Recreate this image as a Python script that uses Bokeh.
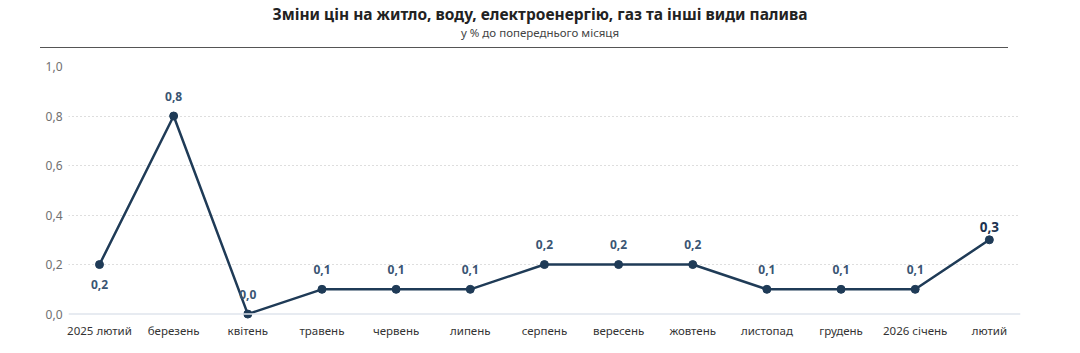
from bokeh.plotting import figure
from bokeh.models import (Range1d, FixedTicker, CustomJSTickFormatter, Span,
                          ColumnDataSource, Div)
from bokeh.layouts import column
from bokeh.core.properties import value
from bokeh.embed import file_html
from bokeh.resources import INLINE

months = ["2025 лютий", "березень", "квітень", "травень", "червень", "липень",
          "серпень", "вересень", "жовтень", "листопад", "грудень", "2026 січень", "лютий"]
values = [0.2, 0.8, 0.0, 0.1, 0.1, 0.1, 0.2, 0.2, 0.2, 0.1, 0.1, 0.1, 0.3]
y_ticks = [0.0, 0.2, 0.4, 0.6, 0.8, 1.0]
title_text = "Зміни цін на житло, воду, електроенергію, газ та інші види палива"
subtitle_text = "у % до попереднього місяця"

FONT = "Noto Sans"
LINE = "#1f3b57"
HEAD_H = 52

xs = list(range(len(months)))
labels = [f"{v:.1f}".replace(".", ",") for v in values]

head = Div(width=1080, height=HEAD_H, margin=0, text=f"""
<div style="position:relative;width:1080px;height:{HEAD_H}px;font-family:'{FONT}';">
  <div style="position:absolute;left:0;top:3px;width:1080px;text-align:center;
       font-size:15.5px;font-weight:bold;color:#222;line-height:22px;white-space:nowrap;">{title_text}</div>
  <div style="position:absolute;left:0;top:25px;width:1080px;text-align:center;
       font-size:11.5px;color:#444;line-height:16px;white-space:nowrap;">{subtitle_text}</div>
  <div style="position:absolute;left:40px;top:47px;width:968px;height:0;
       border-top:1.4px solid #555;"></div>
</div>""")

p = figure(width=1080, height=353 - HEAD_H, output_backend="svg", toolbar_location=None,
           x_range=Range1d(-0.418, 12.42), y_range=Range1d(-0.03, 1.0),
           min_border_left=68, min_border_right=60, min_border_top=66 - HEAD_H,
           min_border_bottom=32, margin=0)
p.outline_line_color = None
p.background_fill_color = "white"
p.border_fill_color = "white"

# axes
p.xaxis.ticker = FixedTicker(ticks=xs)
p.xaxis.major_label_overrides = {i: m for i, m in enumerate(months)}
p.xaxis.axis_line_color = None
p.xaxis.major_tick_line_color = None
p.xaxis.minor_tick_line_color = None
p.xaxis.major_tick_out = 0
p.xaxis.major_tick_in = 0
p.xaxis.major_label_standoff = 1
p.xaxis.major_label_text_font = FONT
p.xaxis.major_label_text_font_size = "11.5px"
p.xaxis.major_label_text_color = "#333333"

p.yaxis.ticker = FixedTicker(ticks=y_ticks)
p.yaxis.formatter = CustomJSTickFormatter(code="return tick.toFixed(1).replace('.', ',');")
p.yaxis.axis_line_color = None
p.yaxis.major_tick_line_color = None
p.yaxis.minor_tick_line_color = None
p.yaxis.major_tick_out = 0
p.yaxis.major_tick_in = 0
p.yaxis.major_label_standoff = 6
p.yaxis.major_label_text_font = FONT
p.yaxis.major_label_text_font_size = "12px"
p.yaxis.major_label_text_color = "#707070"

p.xgrid.grid_line_color = None
p.ygrid.ticker = FixedTicker(ticks=y_ticks[1:])
p.ygrid.grid_line_color = "#bdbdbd"
p.ygrid.grid_line_dash = "1 3"
p.ygrid.grid_line_width = 1

p.add_layout(Span(location=0, dimension="width", line_color="#dfe5ec", line_width=1.5))

src = ColumnDataSource(dict(x=xs, y=values))
p.line("x", "y", source=src, line_color=LINE, line_width=2.5)
p.scatter("x", "y", source=src, size=8, fill_color=LINE, line_color=LINE)

n = len(values)
reg = ColumnDataSource(dict(x=xs[:n - 1], y=values[:n - 1], lab=labels[:n - 1],
                            off=[20 if i == 0 else -20 for i in range(n - 1)]))
p.text("x", "y", text="lab", source=reg, y_offset="off", text_align="center",
       text_baseline="middle", text_font=value(FONT), text_font_size="12px",
       text_font_style="bold", text_color="#3a5573")
p.text([xs[-1]], [values[-1]], text=[labels[-1]], y_offset=-13, text_align="center",
       text_baseline="middle", text_font=value(FONT), text_font_size="13.5px",
       text_font_style="bold", text_color="#1c3350")

layout = column(head, p, spacing=0, margin=0)
open("out.html", "w").write(file_html(layout, INLINE))
